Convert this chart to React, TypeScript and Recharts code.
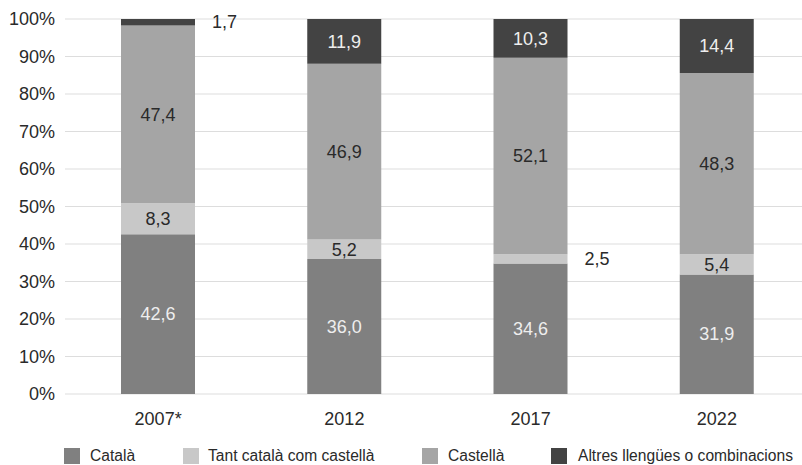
import { BarChart, Bar, XAxis, YAxis, CartesianGrid, Legend, LabelList } from "recharts";

const years = ["2007*", "2012", "2017", "2022"];
const catala = [42.6, 36.0, 34.6, 31.9];
const tant = [8.3, 5.2, 2.5, 5.4];
const castella = [47.4, 46.9, 52.1, 48.3];
const altres = [1.7, 11.9, 10.3, 14.4];
const yTicks = [0, 0.1, 0.2, 0.3, 0.4, 0.5, 0.6, 0.7, 0.8, 0.9, 1];

const seriesInfo = [
  { key: "catala", name: "Català", color: "#808080", label: "#eeeeee" },
  { key: "tant", name: "Tant català com castellà", color: "#c8c8c8", label: "#2a2a2a" },
  { key: "castella", name: "Castellà", color: "#a5a5a5", label: "#2a2a2a" },
  { key: "altres", name: "Altres llengües o combinacions", color: "#434343", label: "#eeeeee" },
];

const data = years.map((year, i) => ({
  year,
  catala: catala[i],
  tant: tant[i],
  castella: castella[i],
  altres: altres[i],
}));

const FONT = "'Liberation Sans', Arial, sans-serif";
const TEXT = "#2a2a2a";
const fmt = (v: number) => v.toFixed(1).replace(".", ",");

function makeLabel(color: string) {
  return (props: any) => {
    const { x, y, width, height, value } = props;
    const v = Number(value);
    if (v < 3) {
      // small slices get their label outside, to the right of the bar
      return (
        <text x={x + width + 17} y={y + height / 2} dy="0.35em" fontSize={18} fill={TEXT} fontFamily={FONT}>
          {fmt(v)}
        </text>
      );
    }
    return (
      <text x={x + width / 2} y={y + height / 2} dy="0.35em" textAnchor="middle" fontSize={18} fill={color} fontFamily={FONT}>
        {fmt(v)}
      </text>
    );
  };
}

// legend item positions
const legendLeft = [64, 183, 422, 551];
const legendText = [90, 208, 448, 578];

function LegendContent() {
  return (
    <div style={{ position: "relative", height: 30, fontFamily: FONT, fontSize: 15.6, color: TEXT }}>
      {seriesInfo.map((s, i) => (
        <div key={s.key}>
          <span style={{ position: "absolute", left: legendLeft[i], top: 13, width: 16, height: 16, background: s.color }} />
          <span style={{ position: "absolute", left: legendText[i], top: 12, lineHeight: "18px", whiteSpace: "nowrap" }}>{s.name}</span>
        </div>
      ))}
    </div>
  );
}

export default function App() {
  return (
    <div style={{ position: "absolute", left: 0, top: 0, width: 802, height: 465, overflow: "hidden", background: "#fff" }}>
      <BarChart
        width={810}
        height={465}
        data={data}
        stackOffset="expand"
        margin={{ top: 19, right: 0, bottom: 0, left: 0 }}
      >
        <CartesianGrid vertical={false} stroke="#dddddd" />
        <XAxis
          dataKey="year"
          axisLine={false}
          tickLine={false}
          height={41}
          tickMargin={12}
          tick={{ fontSize: 18, fill: TEXT, fontFamily: FONT }}
        />
        <YAxis
          domain={[0, 1]}
          ticks={yTicks}
          width={65}
          axisLine={false}
          tickLine={false}
          tickMargin={4}
          tickFormatter={(v: number) => `${Math.round(v * 100)}%`}
          tick={{ fontSize: 18, fill: TEXT, fontFamily: FONT }}
        />
        <Legend height={30} wrapperStyle={{ left: 0, width: 810 }} content={<LegendContent />} />
        {seriesInfo.map((s) => (
          <Bar key={s.key} dataKey={s.key} name={s.name} stackId="a" fill={s.color} barSize={74} isAnimationActive={false}>
            <LabelList dataKey={s.key} content={makeLabel(s.label)} />
          </Bar>
        ))}
      </BarChart>
    </div>
  );
}
